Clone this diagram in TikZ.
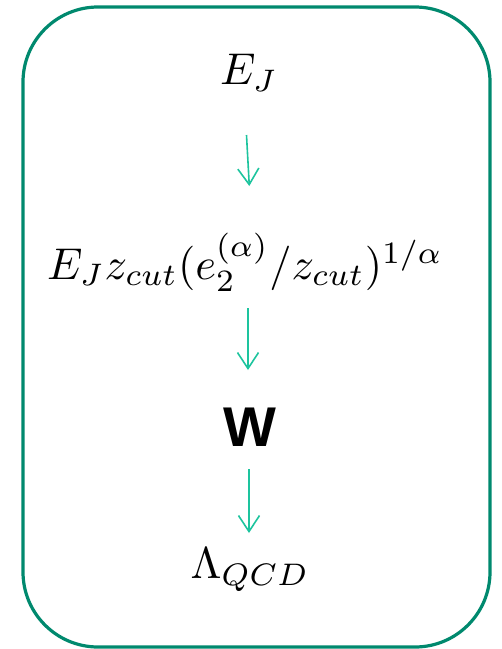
\documentclass[tikz,border=0pt]{standalone}
\usepackage{fontspec}
\newfontfamily\wfont{Liberation Sans}
\usetikzlibrary{arrows.meta}
\definecolor{boxgreen}{HTML}{00896E}
\definecolor{arrgreen}{HTML}{1DC49E}
\tikzset{
  bigmath/.style={scale=4.45, transform shape, inner sep=0pt},
  bigw/.style={scale=5.6, transform shape, inner sep=0pt},
  arr/.style={draw=arrgreen, line width=1.6pt, -{Straight Barb[length=16pt,width=21pt,line width=1.6pt]}},
  frame/.style={draw=boxgreen, line width=3.2pt, rounded corners=75pt}
}
\begin{document}
\begin{tikzpicture}[x=1pt,y=-1pt]
\useasboundingbox (0,0) rectangle (502,649);
\draw[frame] (23,7) rectangle (490,647);
\node[bigmath] (ej) at (249,73) {$E_J$};
\node[bigmath] (fz) at (245,262) {$E_J z_{cut}(e_2^{(\alpha)}/z_{cut})^{1/\alpha}$};
\node[bigw] (w) at (250,427) {\wfont\bfseries W};
\node[bigmath] (lq) at (250,570) {$\Lambda_{QCD}$};
\coordinate (s1) at (246.5,135);
\coordinate (t1) at (249.3,186);
\coordinate (s2) at (248,308);
\coordinate (t2) at (248,370);
\coordinate (s3) at (249,469);
\coordinate (t3) at (249,533);
\draw[arr] (s1) -- (t1);
\draw[arr] (s2) -- (t2);
\draw[arr] (s3) -- (t3);
\end{tikzpicture}
\end{document}
